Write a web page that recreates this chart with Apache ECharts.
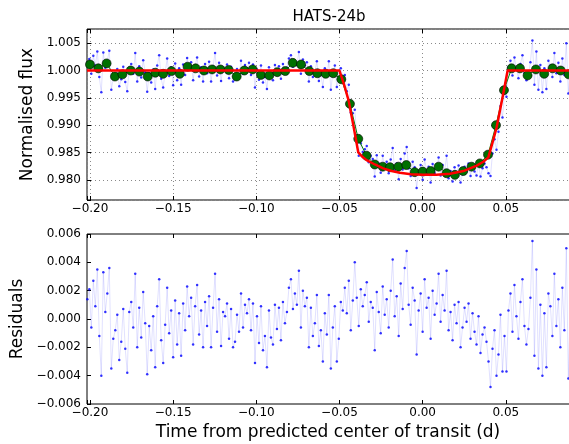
<!DOCTYPE html>
<html>
<head>
<meta charset="utf-8">
<script src="https://cdn.jsdelivr.net/npm/echarts@6/dist/echarts.min.js"></script>
<style>
  html, body { margin: 0; padding: 0; background: #fff; }
  #chart { width: 569px; height: 444px; }
</style>
</head>
<body>
<div id="chart"></div>
<script>
// observation times (d from predicted centre)
var times = [
  -0.2016, -0.2004, -0.1992, -0.1980, -0.1968, -0.1956, -0.1944, -0.1932, -0.1920, -0.1908,
  -0.1896, -0.1884, -0.1872, -0.1860, -0.1848, -0.1836, -0.1824, -0.1812, -0.1800, -0.1788,
  -0.1776, -0.1764, -0.1752, -0.1740, -0.1728, -0.1716, -0.1704, -0.1692, -0.1680, -0.1668,
  -0.1656, -0.1644, -0.1632, -0.1620, -0.1608, -0.1596, -0.1584, -0.1572, -0.1560, -0.1548,
  -0.1536, -0.1524, -0.1512, -0.1500, -0.1488, -0.1476, -0.1464, -0.1452, -0.1440, -0.1428,
  -0.1416, -0.1404, -0.1392, -0.1380, -0.1368, -0.1356, -0.1344, -0.1332, -0.1320, -0.1308,
  -0.1296, -0.1284, -0.1272, -0.1260, -0.1248, -0.1236, -0.1224, -0.1212, -0.1200, -0.1188,
  -0.1176, -0.1164, -0.1152, -0.1140, -0.1128, -0.1116, -0.1104, -0.1092, -0.1080, -0.1068,
  -0.1056, -0.1044, -0.1032, -0.1020, -0.1008, -0.0996, -0.0984, -0.0972, -0.0960, -0.0948,
  -0.0936, -0.0924, -0.0912, -0.0900, -0.0888, -0.0876, -0.0864, -0.0852, -0.0840, -0.0828,
  -0.0816, -0.0804, -0.0792, -0.0780, -0.0768, -0.0756, -0.0744, -0.0732, -0.0720, -0.0708,
  -0.0696, -0.0684, -0.0672, -0.0660, -0.0648, -0.0636, -0.0624, -0.0612, -0.0600, -0.0588,
  -0.0576, -0.0564, -0.0552, -0.0540, -0.0528, -0.0516, -0.0504, -0.0492, -0.0480, -0.0468,
  -0.0456, -0.0444, -0.0432, -0.0420, -0.0408, -0.0396, -0.0384, -0.0372, -0.0360, -0.0348,
  -0.0336, -0.0324, -0.0312, -0.0300, -0.0288, -0.0276, -0.0264, -0.0252, -0.0240, -0.0228,
  -0.0216, -0.0204, -0.0192, -0.0180, -0.0168, -0.0156, -0.0144, -0.0132, -0.0120, -0.0108,
  -0.0096, -0.0084, -0.0072, -0.0060, -0.0048, -0.0036, -0.0024, -0.0012, 0.0000, 0.0012,
  0.0024, 0.0036, 0.0048, 0.0060, 0.0072, 0.0084, 0.0096, 0.0108, 0.0120, 0.0132,
  0.0144, 0.0156, 0.0168, 0.0180, 0.0192, 0.0204, 0.0216, 0.0228, 0.0240, 0.0252,
  0.0264, 0.0276, 0.0288, 0.0300, 0.0312, 0.0324, 0.0336, 0.0348, 0.0360, 0.0372,
  0.0384, 0.0396, 0.0408, 0.0420, 0.0432, 0.0444, 0.0456, 0.0468, 0.0480, 0.0492,
  0.0504, 0.0516, 0.0528, 0.0540, 0.0552, 0.0564, 0.0576, 0.0588, 0.0600, 0.0612,
  0.0624, 0.0636, 0.0648, 0.0660, 0.0672, 0.0684, 0.0696, 0.0708, 0.0720, 0.0732,
  0.0744, 0.0756, 0.0768, 0.0780, 0.0792, 0.0804, 0.0816, 0.0828, 0.0840, 0.0852,
  0.0864, 0.0876, 0.0888
];

// normalised flux of each observation
var flux = [
  1.0014, 1.0021, 0.9994, 1.0027, 1.0009, 1.0035, 0.9988, 0.9960, 1.0033, 1.0005,
  1.0018, 1.0036, 0.9965, 0.9986, 0.9992, 1.0003, 0.9971, 0.9984, 1.0007, 0.9979,
  0.9962, 1.0005, 1.0012, 0.9994, 1.0032, 0.9980, 1.0008, 0.9987, 1.0019, 0.9997,
  0.9961, 0.9995, 0.9978, 1.0002, 0.9966, 1.0009, 1.0028, 0.9985, 0.9969, 0.9996,
  1.0022, 0.9990, 1.0006, 0.9973, 1.0013, 0.9982, 1.0004, 0.9974, 1.0011, 0.9992,
  1.0023, 1.0002, 1.0015, 0.9982, 1.0009, 1.0024, 0.9989, 1.0006, 0.9980, 1.0012,
  0.9995, 1.0016, 0.9980, 1.0008, 1.0032, 0.9991, 1.0014, 0.9981, 1.0005, 1.0002,
  1.0011, 0.9986, 1.0007, 0.9980, 0.9984, 1.0003, 0.9991, 1.0018, 0.9994, 1.0010,
  1.0004, 1.0014, 0.9992, 1.0011, 0.9969, 1.0002, 0.9983, 1.0009, 0.9978, 0.9988,
  0.9966, 1.0006, 0.9987, 0.9982, 1.0010, 0.9993, 1.0008, 0.9985, 1.0012, 0.9997,
  1.0005, 1.0022, 1.0028, 1.0007, 1.0018, 1.0010, 1.0034, 0.9994, 1.0020, 1.0009,
  1.0015, 0.9980, 1.0008, 0.9988, 0.9997, 1.0017, 0.9981, 0.9992, 0.9970, 1.0004,
  0.9989, 1.0017, 0.9965, 0.9994, 1.0009, 0.9970, 0.9986, 1.0004, 0.9987, 0.9992,
  0.9962, 0.9974, 0.9923, 0.9922, 0.9928, 0.9881, 0.9844, 0.9867, 0.9851, 0.9856,
  0.9862, 0.9832, 0.9844, 0.9838, 0.9806, 0.9845, 0.9830, 0.9813, 0.9844, 0.9823,
  0.9833, 0.9812, 0.9837, 0.9858, 0.9817, 0.9830, 0.9801, 0.9838, 0.9819, 0.9848,
  0.9860, 0.9821, 0.9807, 0.9833, 0.9823, 0.9785, 0.9816, 0.9827, 0.9800, 0.9837,
  0.9817, 0.9824, 0.9795, 0.9829, 0.9812, 0.9820, 0.9841, 0.9808, 0.9827, 0.9816,
  0.9844, 0.9803, 0.9816, 0.9797, 0.9823, 0.9810, 0.9826, 0.9795, 0.9810, 0.9824,
  0.9815, 0.9830, 0.9807, 0.9827, 0.9815, 0.9808, 0.9829, 0.9806, 0.9821, 0.9830,
  0.9823, 0.9812, 0.9807, 0.9848, 0.9874, 0.9855, 0.9888, 0.9935, 0.9914, 0.9958,
  0.9952, 1.0006, 1.0018, 0.9991, 1.0024, 1.0002, 0.9986, 1.0012, 1.0028, 0.9995,
  0.9982, 0.9993, 1.0015, 1.0055, 0.9974, 1.0035, 0.9965, 1.0010, 0.9960, 1.0004,
  0.9966, 1.0018, 1.0009, 0.9988, 1.0032, 0.9995, 1.0014, 0.9980, 1.0022, 0.9992,
  1.0050, 0.9958, 1.0011
];

// residuals (flux - model)
var resid = [
  0.0014, 0.0021, -0.0006, 0.0027, 0.0009, 0.0035, -0.0012, -0.0040, 0.0033, 0.0005,
  0.0018, 0.0036, -0.0035, -0.0014, -0.0008, 0.0003, -0.0029, -0.0016, 0.0007, -0.0021,
  -0.0038, 0.0005, 0.0012, -0.0006, 0.0032, -0.0020, 0.0008, -0.0013, 0.0019, -0.0003,
  -0.0039, -0.0005, -0.0022, 0.0002, -0.0034, 0.0009, 0.0028, -0.0015, -0.0031, -0.0004,
  0.0022, -0.0010, 0.0006, -0.0027, 0.0013, -0.0018, 0.0004, -0.0026, 0.0011, -0.0008,
  0.0023, 0.0002, 0.0015, -0.0018, 0.0009, 0.0024, -0.0011, 0.0006, -0.0020, 0.0012,
  -0.0005, 0.0016, -0.0020, 0.0008, 0.0032, -0.0009, 0.0014, -0.0019, 0.0005, 0.0002,
  0.0011, -0.0014, 0.0007, -0.0020, -0.0016, 0.0003, -0.0009, 0.0018, -0.0006, 0.0010,
  0.0004, 0.0014, -0.0008, 0.0011, -0.0031, 0.0002, -0.0017, 0.0009, -0.0022, -0.0012,
  -0.0034, 0.0006, -0.0013, -0.0018, 0.0010, -0.0007, 0.0008, -0.0015, 0.0012, -0.0003,
  0.0005, 0.0022, 0.0028, 0.0007, 0.0018, 0.0010, 0.0034, -0.0006, 0.0020, 0.0009,
  0.0015, -0.0020, 0.0008, -0.0012, -0.0003, 0.0017, -0.0019, -0.0008, -0.0030, 0.0004,
  -0.0011, 0.0017, -0.0035, -0.0006, 0.0009, -0.0030, -0.0014, 0.0012, 0.0006, 0.0022,
  0.0004, 0.0027, -0.0008, 0.0013, 0.0040, 0.0015, -0.0005, 0.0021, 0.0009, 0.0017,
  0.0026, -0.0002, 0.0012, 0.0008, -0.0022, 0.0019, 0.0005, -0.0010, 0.0023, 0.0003,
  0.0014, -0.0006, 0.0020, 0.0042, 0.0002, 0.0016, -0.0012, 0.0025, 0.0007, 0.0036,
  0.0048, 0.0010, -0.0004, 0.0022, 0.0013, -0.0025, 0.0006, 0.0018, -0.0009, 0.0028,
  0.0008, 0.0015, -0.0014, 0.0020, 0.0003, 0.0011, 0.0032, -0.0002, 0.0017, 0.0006,
  0.0034, -0.0008, 0.0005, -0.0015, 0.0010, -0.0003, 0.0012, -0.0020, -0.0006, 0.0008,
  -0.0002, 0.0011, -0.0014, 0.0004, -0.0009, -0.0018, 0.0002, -0.0024, -0.0011, -0.0006,
  -0.0016, -0.0030, -0.0048, -0.0021, -0.0008, -0.0040, -0.0025, 0.0003, -0.0037, -0.0012,
  -0.0037, 0.0006, 0.0018, -0.0009, 0.0024, 0.0002, -0.0014, 0.0012, 0.0028, -0.0005,
  -0.0018, -0.0007, 0.0015, 0.0055, -0.0026, 0.0035, -0.0035, 0.0010, -0.0040, 0.0004,
  -0.0034, 0.0018, 0.0009, -0.0012, 0.0032, -0.0005, 0.0014, -0.0020, 0.0022, -0.0008,
  0.0050, -0.0042, 0.0011
];

// binned light curve (green circles)
var binT = [
  -0.2000, -0.1950, -0.1900, -0.1850, -0.1805, -0.1755, -0.1703, -0.1653, -0.1607, -0.1560,
  -0.1510, -0.1460, -0.1413, -0.1365, -0.1315, -0.1266, -0.1216, -0.1166, -0.1118, -0.1072,
  -0.1022, -0.0972, -0.0922, -0.0874, -0.0826, -0.0781, -0.0731, -0.0681, -0.0633, -0.0583,
  -0.0537, -0.0489, -0.0437, -0.0387, -0.0337, -0.0288, -0.0240, -0.0196, -0.0146, -0.0098,
  -0.0048, 0.0000, 0.0048, 0.0096, 0.0144, 0.0194, 0.0244, 0.0294, 0.0344, 0.0393,
  0.0441, 0.0489, 0.0535, 0.0585, 0.0631, 0.0681, 0.0731, 0.0781, 0.0830, 0.0878
];
var binF = [
  1.0011, 1.0004, 1.0013, 0.9989, 0.9993, 1.0000, 0.9998, 0.9989, 0.9996, 0.9994,
  0.9999, 0.9994, 1.0007, 1.0004, 1.0000, 1.0002, 1.0002, 1.0001, 0.9989, 1.0000,
  1.0002, 0.9992, 0.9991, 0.9997, 0.9999, 1.0014, 1.0011, 0.9999, 0.9995, 0.9994,
  0.9995, 0.9984, 0.9939, 0.9875, 0.9844, 0.9828, 0.9824, 0.9823, 0.9824, 0.9827,
  0.9814, 0.9815, 0.9816, 0.9824, 0.9812, 0.9809, 0.9816, 0.9824, 0.9830, 0.9846,
  0.9900, 0.9964, 1.0004, 1.0004, 0.9991, 1.0002, 0.9994, 1.0004, 1.0000, 0.9993
];

// transit model (red curve)
var modelT = [
  -0.2018, -0.0500, -0.0470, -0.0445, -0.0415, -0.0387, -0.0362, -0.0337, -0.0287, -0.0237,
  -0.0187, -0.0137, -0.0070, 0.0000, 0.0082, 0.0165, 0.0245, 0.0325, 0.0365, 0.0395,
  0.0420, 0.0445, 0.0480, 0.0511, 0.0892
];
var modelF = [
  1.0000, 1.0000, 0.9972, 0.9945, 0.9897, 0.9850, 0.9842, 0.9836, 0.9828, 0.9821,
  0.9816, 0.9813, 0.9810, 0.9809, 0.9809, 0.9811, 0.9816, 0.9826, 0.9833, 0.9841,
  0.9868, 0.9896, 0.9950, 1.0000, 1.0000
];

function zip(a, b) {
  return a.map(function (v, i) { return [v, b[i]]; });
}

// only label the "nice" ticks, with a proper minus sign
function tickFmt(step, dec) {
  return function (v) {
    var q = v / step;
    if (Math.abs(q - Math.round(q)) > 1e-6) return '';
    var s = Math.abs(v).toFixed(dec);
    return (v < -1e-12 ? '\u2212' : '') + s;
  };
}

var FONT = 'DejaVu Sans';
var X_MIN = -0.2018, X_MAX = 0.0892;

var chart = echarts.init(document.getElementById('chart'), null, { renderer: 'canvas' });

function xAxisFor(grid, pos, labels) {
  return {
    type: 'value', gridIndex: grid, position: pos,
    min: X_MIN, max: X_MAX, splitNumber: 6,
    axisLine: { show: false, onZero: false },
    axisTick: { show: true, inside: true, length: 4, lineStyle: { color: '#000' } },
    axisLabel: {
      show: labels, color: '#000', fontFamily: FONT, fontSize: 12, margin: 3,
      formatter: tickFmt(0.05, 2)
    },
    splitLine: {
      show: grid === 0 && pos === 'bottom',
      lineStyle: { color: '#8a8a8a', type: [1, 3], width: 1 }
    }
  };
}

var option = {
  backgroundColor: '#fff',
  animation: false,
  grid: [
    { left: 87, top: 29, width: 484, height: 171, show: true, borderColor: '#000', borderWidth: 1,
      outerBoundsMode: 'none', containLabel: false },
    { left: 87, top: 234, width: 484, height: 170, show: true, borderColor: '#000', borderWidth: 1,
      outerBoundsMode: 'none', containLabel: false }
  ],
  xAxis: [
    xAxisFor(0, 'bottom', true),
    xAxisFor(0, 'top', false),
    xAxisFor(1, 'bottom', true),
    xAxisFor(1, 'top', false)
  ],
  yAxis: [
    {
      type: 'value', gridIndex: 0, min: 0.9763, max: 1.0076, splitNumber: 6,
      name: 'Normalised flux', nameLocation: 'middle', nameGap: 50,
      nameTextStyle: { fontFamily: FONT, fontSize: 17, color: '#000' },
      axisLine: { show: false, onZero: false },
      axisTick: { show: true, inside: true, length: 4, lineStyle: { color: '#000' } },
      axisLabel: { color: '#000', fontFamily: FONT, fontSize: 12, margin: 6, formatter: tickFmt(0.005, 3) },
      splitLine: { show: true, lineStyle: { color: '#8a8a8a', type: [1, 3], width: 1 } }
    },
    {
      type: 'value', gridIndex: 1, min: -0.006, max: 0.006, interval: 0.002,
      name: 'Residuals', nameLocation: 'middle', nameGap: 57,
      nameTextStyle: { fontFamily: FONT, fontSize: 17, color: '#000' },
      axisLine: { show: false, onZero: false },
      axisTick: { show: true, inside: true, length: 4, lineStyle: { color: '#000' } },
      axisLabel: { color: '#000', fontFamily: FONT, fontSize: 12, margin: 6, formatter: tickFmt(0.002, 3) },
      splitLine: { show: false }
    }
  ],
  graphic: [
    { type: 'text', x: 329, y: 17, style: { text: 'HATS-24b', font: '15px "DejaVu Sans"', fill: '#000',
      textAlign: 'center', textVerticalAlign: 'middle' } },
    { type: 'text', x: 328, y: 433, style: { text: 'Time from predicted center of transit (d)',
      font: '17px "DejaVu Sans"', fill: '#000', textAlign: 'center', textVerticalAlign: 'middle' } }
  ],
  series: [
    { type: 'line', xAxisIndex: 0, yAxisIndex: 0, data: zip(times, flux), showSymbol: false,
      lineStyle: { color: 'rgba(0,0,255,0.12)', width: 1 }, silent: true, z: 1 },
    { type: 'scatter', xAxisIndex: 0, yAxisIndex: 0, data: zip(times, flux), symbolSize: 2.5,
      itemStyle: { color: '#0000ff' }, silent: true, z: 2 },
    { type: 'line', xAxisIndex: 0, yAxisIndex: 0, data: zip(binT, binF), symbol: 'circle', symbolSize: 9,
      showAllSymbol: true, lineStyle: { color: '#008000', width: 1 },
      itemStyle: { color: '#007000', borderColor: '#000', borderWidth: 0.6 }, silent: true, z: 3 },
    { type: 'line', xAxisIndex: 0, yAxisIndex: 0, data: zip(modelT, modelF), showSymbol: false,
      lineStyle: { color: '#ff0000', width: 2.5 }, silent: true, z: 4 },
    { type: 'line', xAxisIndex: 2, yAxisIndex: 1, data: zip(times, resid), showSymbol: false,
      lineStyle: { color: 'rgba(0,0,255,0.12)', width: 1 }, silent: true, z: 1 },
    { type: 'scatter', xAxisIndex: 2, yAxisIndex: 1, data: zip(times, resid), symbolSize: 2.5,
      itemStyle: { color: '#0000ff' }, silent: true, z: 2 }
  ]
};

chart.setOption(option);
</script>
</body>
</html>
